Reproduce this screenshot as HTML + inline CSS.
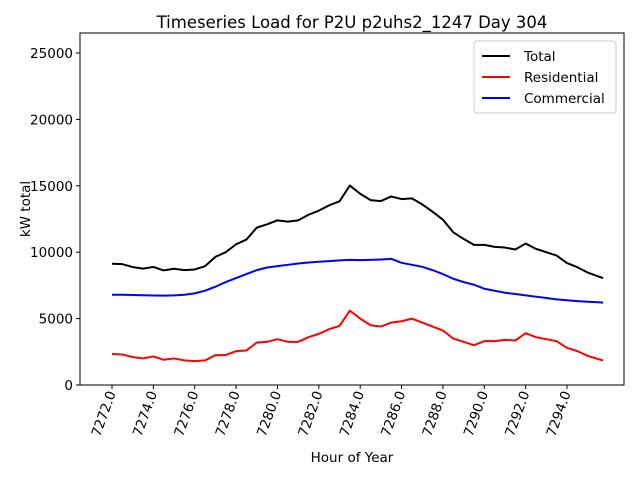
<!DOCTYPE html>
<html><head><meta charset="utf-8"><style>
body{margin:0;background:#fff;}
svg{font-family:"DejaVu Sans","Liberation Sans",sans-serif;display:block;}
</style></head><body>
<svg id="chart" width="640" height="480">
<rect x="0" y="0" width="640" height="480" fill="#fff"/>
<text x="352" y="28" text-anchor="middle" font-size="16.5">Timeseries Load for P2U p2uhs2_1247  Day 304</text>
<g id="grid"></g>
<g id="lines"></g>
<rect x="80" y="33" width="544" height="352" fill="none" stroke="#000" stroke-width="1"/>
<text x="30" y="209" text-anchor="middle" font-size="13.5" transform="rotate(-90 30 209)">kW total</text>
<text x="352" y="462" text-anchor="middle" font-size="13.5">Hour of Year</text>
<g>
<rect x="474" y="41" width="142" height="72" fill="#fff" fill-opacity="0.8" stroke="#ccc" rx="3"/>
<g><line x1="482" y1="56" x2="510" y2="56" stroke="#000" stroke-width="2"/><text x="524" y="61" font-size="13.5">Total</text></g>
<g><line x1="482" y1="77" x2="510" y2="77" stroke="#f00" stroke-width="2"/><text x="524" y="82" font-size="13.5">Residential</text></g>
<g><line x1="482" y1="98" x2="510" y2="98" stroke="#00f" stroke-width="2"/><text x="524" y="103" font-size="13.5">Commercial</text></g>
</g>
</svg>
<script>
const hours = [7272,7272.5,7273,7273.5,7274,7274.5,7275,7275.5,7276,7276.5,7277,7277.5,7278,7278.5,7279,7279.5,7280,7280.5,7281,7281.5,7282,7282.5,7283,7283.5,7284,7284.5,7285,7285.5,7286,7286.5,7287,7287.5,7288,7288.5,7289,7289.5,7290,7290.5,7291,7291.5,7292,7292.5,7293,7293.5,7294,7294.5,7295,7295.5,7295.75];
const residential = [2330,2300,2100,2000,2150,1900,2000,1850,1800,1850,2250,2250,2550,2600,3200,3250,3450,3250,3250,3600,3850,4200,4450,5600,5000,4500,4400,4700,4800,5000,4700,4400,4100,3500,3250,3000,3300,3300,3400,3350,3900,3600,3450,3300,2800,2550,2200,1950,1850];
const commercial = [6800,6800,6780,6760,6740,6730,6750,6800,6900,7100,7400,7750,8050,8350,8650,8850,8950,9050,9150,9220,9280,9330,9380,9420,9400,9420,9450,9500,9200,9050,8900,8650,8350,8000,7750,7550,7250,7100,6950,6850,6750,6650,6550,6450,6380,6320,6270,6230,6200];
const total = [9130,9100,8880,8760,8890,8630,8750,8650,8700,8950,9650,10000,10600,10950,11850,12100,12400,12300,12400,12820,13130,13530,13830,15020,14400,13920,13850,14200,14000,14050,13600,13050,12450,11500,11000,10550,10550,10400,10350,10200,10650,10250,10000,9750,9180,8870,8470,8180,8050];
const yTicks = [0,5000,10000,15000,20000,25000];
const xTicks = [7272,7274,7276,7278,7280,7282,7284,7286,7288,7290,7292,7294];

const NS='http://www.w3.org/2000/svg';
const xs = h => 112 + (h-7272)*(455/22);
const ys = v => 385 - v*(332/25000);
const grid=document.getElementById('grid'), lines=document.getElementById('lines');

yTicks.forEach(v=>{
  const y=ys(v);
  const t=document.createElementNS(NS,'line');
  t.setAttribute('x1',76);t.setAttribute('x2',80);t.setAttribute('y1',y);t.setAttribute('y2',y);t.setAttribute('stroke','#000');
  
  
  grid.appendChild(t);
  const l=document.createElementNS(NS,'text');
  l.setAttribute('x',73);l.setAttribute('y',y+5);l.setAttribute('text-anchor','end');l.setAttribute('font-size','13.5');
  l.textContent=v;
  
  
  grid.appendChild(l);
});
xTicks.forEach(h=>{
  const x=xs(h);
  const t=document.createElementNS(NS,'line');
  t.setAttribute('x1',x);t.setAttribute('x2',x);t.setAttribute('y1',385);t.setAttribute('y2',389);t.setAttribute('stroke','#000');
  
  
  grid.appendChild(t);
  const l=document.createElementNS(NS,'text');
  l.setAttribute('x',x+4);l.setAttribute('y',393);l.setAttribute('text-anchor','end');l.setAttribute('font-size','13.5');
  l.setAttribute('transform','rotate(-70 '+(x+4)+' 393)');
  l.textContent=h.toFixed(1);
  
  
  grid.appendChild(l);
});
function draw(vals,color,name){
  const p=document.createElementNS(NS,'polyline');
  p.setAttribute('points',vals.map((v,i)=>xs(hours[i])+','+ys(v)).join(' '));
  p.setAttribute('fill','none');p.setAttribute('stroke',color);p.setAttribute('stroke-width','2');
  p.setAttribute('stroke-linejoin','round');
  
  
  lines.appendChild(p);
}
draw(total,'#000','total-line');
draw(residential,'#f00','residential-line');
draw(commercial,'#00f','commercial-line');
</script>
</body></html>
